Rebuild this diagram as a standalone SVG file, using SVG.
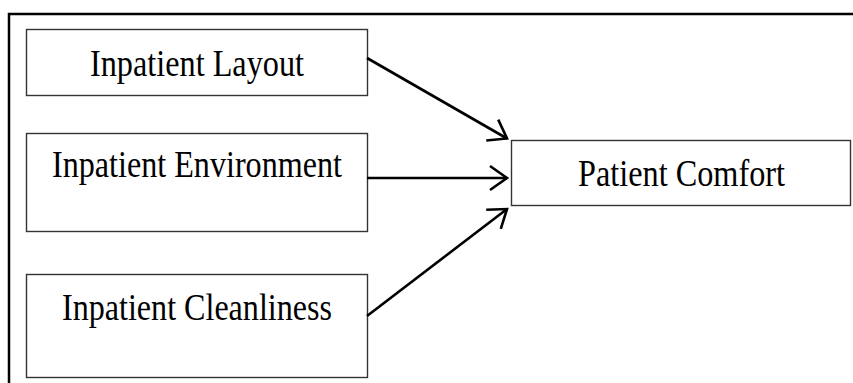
<svg xmlns="http://www.w3.org/2000/svg" width="853" height="383" viewBox="0 0 853 383">
<style>
.box{fill:#fff;stroke:#333;stroke-width:1.4}
.lbl{font-family:"Liberation Serif","Times New Roman",serif;font-size:38px;fill:#000}
.conn{stroke:#000;stroke-width:2.6;fill:none}
.frame{stroke:#000;stroke-width:2.5;fill:none}
</style>
<defs>
<marker id="arr" viewBox="-20 -14 22 28" markerWidth="22" markerHeight="28" refX="0" refY="0" orient="auto" markerUnits="userSpaceOnUse" overflow="visible">
<path d="M-17,-12 L0,0 L-17,12" fill="none" stroke="#000" stroke-width="2.6"/>
</marker>
</defs>
<rect width="853" height="383" fill="#fff"/>
<path class="frame" d="M9,383 V14 H853"/>
<g id="layout">
<rect class="box" x="26.5" y="29.5" width="341" height="66"/>
<text class="lbl" x="90" y="76" textLength="214" lengthAdjust="spacingAndGlyphs">Inpatient Layout</text>
</g>
<g id="environment">
<rect class="box" x="26.5" y="133.5" width="341" height="98"/>
<text class="lbl" x="52" y="177" textLength="290" lengthAdjust="spacingAndGlyphs">Inpatient Environment</text>
</g>
<g id="cleanliness">
<rect class="box" x="26.5" y="274.5" width="341" height="103"/>
<text class="lbl" x="62" y="320" textLength="270" lengthAdjust="spacingAndGlyphs">Inpatient Cleanliness</text>
</g>
<g id="comfort">
<rect class="box" x="511.5" y="140.5" width="339" height="65"/>
<text class="lbl" x="578" y="186" textLength="207" lengthAdjust="spacingAndGlyphs">Patient Comfort</text>
</g>
<g id="connectors">
<line class="conn" x1="367" y1="58" x2="507" y2="138.5" marker-end="url(#arr)"/>
<line class="conn" x1="367" y1="178" x2="507" y2="178" marker-end="url(#arr)"/>
<line class="conn" x1="367" y1="316" x2="507" y2="209" marker-end="url(#arr)"/>
</g>
</svg>
